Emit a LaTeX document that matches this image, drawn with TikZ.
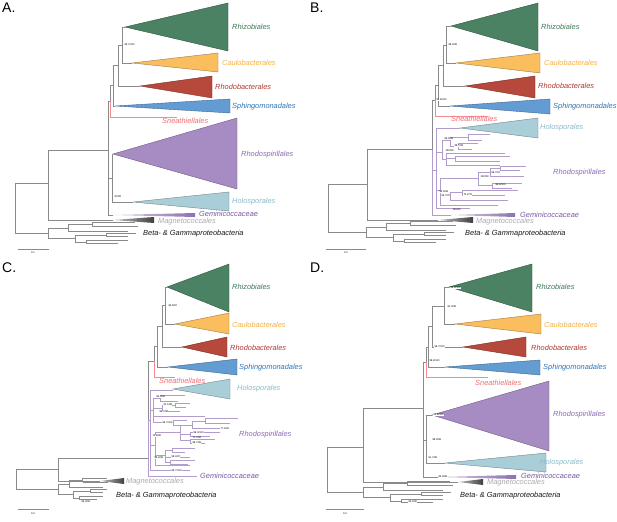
\documentclass[tikz,border=0pt]{standalone}
\usepackage{fontspec}
\setmainfont{Liberation Sans}
\usetikzlibrary{arrows.meta}

\definecolor{rhizo}{HTML}{4C8264}
\definecolor{caulo}{HTML}{FABE5F}
\definecolor{rhodob}{HTML}{B6483C}
\definecolor{sphingo}{HTML}{629CD2}
\definecolor{rhodos}{HTML}{A78CC3}
\definecolor{holo}{HTML}{AACED8}
\definecolor{gemini}{HTML}{8D72B0}
\definecolor{rhizotxt}{HTML}{3F7A5A}
\definecolor{caulotxt}{HTML}{F5B041}
\definecolor{rhodobtxt}{HTML}{B03A2E}
\definecolor{sphingotxt}{HTML}{2E75B6}
\definecolor{sneathtxt}{HTML}{EE6E73}
\definecolor{rhodostxt}{HTML}{8E6BB5}
\definecolor{holotxt}{HTML}{87BBCB}
\definecolor{geminitxt}{HTML}{7B58A6}
\definecolor{magnetotxt}{HTML}{AAAAAA}
\definecolor{treegray}{HTML}{8A8A8A}
\definecolor{treepurple}{HTML}{B09DCB}

\newcommand{\cladetri}[6]{\filldraw[clade, fill=#1, draw=#1!65!black] (#2,#3) -- (#4,#5) -- (#4,#6) -- cycle;}

\tikzset{
  betagamma/.pic={
    \draw[branch] (0,-5) -- (0,5) (0,-5) -- (20,-5) (20,-9) -- (20,-2) (20,-9) -- (44,-9)
      (44,-11) -- (44,-7) (44,-11) -- (87,-11) (44,-7) -- (90,-7) (20,-2) -- (80,-2)
      (0,5) -- (27,5) (27,2) -- (27,9) (27,2) -- (58,2) (58,0.5) -- (58,3.5) (58,0.5) -- (88,0.5)
      (58,3.5) -- (80,3.5) (27,9) -- (38,9) (38,7.5) -- (38,10.5) (38,7.5) -- (80,7.5) (38,10.5) -- (70,10.5);
  }
}

\begin{document}
\begin{tikzpicture}[
  x=1pt, y=-1pt,
  branch/.style={draw=treegray, line width=.5pt},
  purp/.style={draw=treepurple, line width=.4pt},
  sneathline/.style={draw=sneathtxt!80, line width=.5pt},
  clade/.style={line width=.4pt},
  lab/.style={font=\fontsize{7.4}{8}\selectfont\itshape, anchor=west, inner sep=0pt},
  boot/.style={font=\fontsize{2.6}{3}\selectfont, inner sep=.3pt, anchor=west, fill=white},
  panel/.style={font=\fontsize{14}{14}\selectfont, anchor=north west, inner sep=0pt},
]
\useasboundingbox (0,0) rectangle (617,521);
\fill[white] (0,0) rectangle (617,521);

% panel A
\node[panel] (pA) at (2,3) {A.};
\cladetri{rhizo}{125}{27}{228}{3}{51}
\cladetri{caulo}{132}{63}{218}{53}{72}
\cladetri{rhodob}{140}{86}{212}{76}{98}
\cladetri{sphingo}{115}{106}{230}{99}{113}
\cladetri{rhodos}{113}{154}{237}{118}{189}
\cladetri{holo}{133}{202}{229}{192}{211}
\shade[left color=gemini!35, right color=gemini] (113,215) -- (195,213) -- (195,217) -- cycle;
\shade[left color=black!25, right color=black!75] (113,220) -- (154,217) -- (154,223) -- cycle;
\draw[branch] (15,183) -- (15,233) (15,183) -- (48,183) (48,150) -- (48,220) (48,150) -- (108,150)
  (108,101) -- (108,215) (108,101) -- (110,101) (110,85) -- (110,101) (110,85) -- (113,85)
  (113,65) -- (113,106) (113,65) -- (118,65) (118,45) -- (118,86) (118,45) -- (122,45)
  (122,27) -- (122,63) (122,27) -- (125,27) (122,63) -- (132,63) (118,86) -- (140,86) (113,106) -- (115,106)
  (108,178) -- (112,178) (112,154) -- (112,202) (112,154) -- (113,154) (112,202) -- (133,202)
  (108,215) -- (113,215) (48,220) -- (113,220) (15,233) -- (48,233);
\draw[sneathline] (110,101) -- (110,117) -- (177,117);
\pic at (48,233) {betagamma};
\node[lab, text=rhizotxt] (rhizoA) at (232,27) {Rhizobiales};
\node[lab, text=caulotxt] (cauloA) at (222,63) {Caulobacterales};
\node[lab, text=rhodobtxt] (rhodobA) at (215,87) {Rhodobacterales};
\node[lab, text=sphingotxt] (sphingoA) at (232,107) {Sphingomonadales};
\node[lab, text=sneathtxt] (sneathA) at (162,121) {Sneathiellales};
\node[lab, text=rhodostxt] (rhodosA) at (241,155) {Rhodospirillales};
\node[lab, text=holotxt] (holoA) at (232,202) {Holosporales};
\node[lab, text=geminitxt] (geminiA) at (199,214) {Geminicoccaceae};
\node[lab, text=magnetotxt] (magnetoA) at (158,222) {Magnetococcales};
\node[lab, text=black!90] (betaA) at (143,234) {Beta- \& Gammaproteobacteria};
\node[boot] at (124,45) {96.7/100};
\node[boot] at (114,197) {97/98};
\draw[branch] (18,249) -- (49,249);
\node[boot, anchor=center] (barA) at (33,253) {0.1};

% panel B
\node[panel] (pB) at (310,3) {B.};
\cladetri{rhizo}{451}{26}{538}{3}{51}
\cladetri{caulo}{456}{63}{540}{53}{73}
\cladetri{rhodob}{465}{86}{535}{76}{98}
\cladetri{sphingo}{450}{106}{550}{99}{114}
\cladetri{holo}{460}{128}{538}{118}{138}
\shade[left color=gemini!35, right color=gemini] (451,215) -- (515,213) -- (515,217) -- cycle;
\shade[left color=black!25, right color=black!75] (438,220) -- (473,217) -- (473,223) -- cycle;
\draw[branch] (328,184) -- (328,232) (328,184) -- (367,184) (367,149) -- (367,220) (367,149) -- (432,149)
  (432,100) -- (432,150) (432,100) -- (435,100) (435,85) -- (435,100) (435,85) -- (438,85)
  (438,65) -- (438,106) (438,65) -- (443,65) (443,45) -- (443,86) (443,45) -- (446,45)
  (446,26) -- (446,63) (446,26) -- (451,26) (446,63) -- (456,63) (443,86) -- (465,86) (438,106) -- (450,106)
  (367,220) -- (438,220) (328,232) -- (366,232);
\draw[sneathline] (435,100) -- (435,116) -- (488,116);
\draw[purp] (432,150) -- (432,215) (432,215) -- (451,215)
  foreach \a/\b/\y in {436/460/128, 432/436/170, 436/442/152, 442/450/140, 450/468/137, 468/490/134,
    468/482/140, 450/458/146, 458/478/143, 458/472/149, 442/446/159, 446/505/153, 446/455/158,
    455/510/156, 455/500/161, 446/500/165, 436/440/190, 440/478/178, 478/490/172, 490/500/168,
    500/526/166, 500/520/170, 490/524/176, 478/492/185, 492/522/183, 492/512/188, 440/450/196,
    450/462/192, 462/518/190, 462/505/195, 450/508/200, 440/498/205, 436/470/208}
  {(\a,\y) -- (\b,\y)}
  foreach \x/\a/\b in {436/128/208, 442/140/159, 450/137/146, 468/134/140, 458/143/149, 446/153/165,
    455/156/161, 440/178/205, 478/172/185, 490/168/176, 500/166/170, 492/183/188, 450/192/200, 462/190/195}
  {(\x,\a) -- (\x,\b)};
\pic at (366,232) {betagamma};
\node[lab, text=rhizotxt] (rhizoB) at (541,27) {Rhizobiales};
\node[lab, text=caulotxt] (cauloB) at (544,63) {Caulobacterales};
\node[lab, text=rhodobtxt] (rhodobB) at (538,86) {Rhodobacterales};
\node[lab, text=sphingotxt] (sphingoB) at (553,107) {Sphingomonadales};
\node[lab, text=sneathtxt] (sneathB) at (451,119) {Sneathiellales};
\node[lab, text=holotxt] (holoB) at (540,128) {Holosporales};
\node[lab, text=rhodostxt] (rhodosB) at (553,173) {Rhodospirillales};
\node[lab, text=geminitxt] (geminiB) at (520,215) {Geminicoccaceae};
\node[lab, text=magnetotxt] (magnetoB) at (476,222) {Magnetococcales};
\node[lab, text=black!90] (betaB) at (465,234) {Beta- \& Gammaproteobacteria};
\foreach \x/\y/\t in {448/45/{98.2/99}, 436/100/{99.8/100}, 444/139/{99.9/99}, 454/146/{99.7/99},
  445/151/{100/99}, 491/173/{99.7/97}, 480/177/{100/99}, 495/185/{98.8/100}, 463/195/{70.2/75},
  439/192/{95.6/99}, 441/196/{99.7/97}, 452/210/{100/99}}
  \node[boot] at (\x,\y) {\t};
\draw[branch] (326,249) -- (366,249);
\node[boot, anchor=center] (barB) at (346,253) {0.2};

% panel C
\node[panel] (pC) at (2,263) {C.};
\cladetri{rhizo}{167}{287}{229}{264}{312}
\cladetri{caulo}{175}{324}{229}{313}{334}
\cladetri{rhodob}{182}{347}{227}{337}{357}
\cladetri{sphingo}{168}{367}{237}{359}{375}
\cladetri{holo}{173}{389}{230}{379}{399}
\shade[left color=black!25, right color=black!75] (100,481) -- (124,478) -- (124,484) -- cycle;
\draw[branch] (16,469) -- (16,489) (16,469) -- (58,469) (58,458) -- (58,481) (58,458) -- (148,458)
  (148,361) -- (148,420) (148,361) -- (154,361) (154,346) -- (154,361) (154,346) -- (157,346)
  (157,326) -- (157,367) (157,326) -- (162,326) (162,305) -- (162,347) (162,305) -- (165,305)
  (165,287) -- (165,324) (165,287) -- (167,287) (165,324) -- (175,324) (162,347) -- (182,347) (157,367) -- (168,367)
  (58,481) -- (100,481) (16,489) -- (58,489);
\draw[sneathline] (154,361) -- (154,377) -- (175,377);
\draw[purp] (148,420) -- (148,476) (148,476) -- (197,476)
  foreach \a/\b/\y in {150/173/390, 148/150/420, 150/153/410, 153/160/398, 160/185/395, 160/178/401,
    153/162/408, 162/175/405, 175/190/403, 175/186/407, 162/180/411, 153/205/416, 153/173/422,
    173/187/420, 173/180/425, 150/155/445, 155/180/432, 180/192/425, 192/205/421, 205/238/418,
    205/230/423, 192/225/428, 180/190/434, 190/220/432, 190/210/436, 180/190/440, 190/215/439,
    190/205/443, 155/165/455, 165/172/450, 172/195/448, 172/185/452, 165/190/457, 165/170/462,
    170/195/460, 170/188/464, 155/190/465, 150/190/470}
  {(\a,\y) -- (\b,\y)}
  foreach \x/\a/\b in {150/390/470, 153/398/422, 160/395/401, 162/405/411, 175/403/407, 173/420/425,
    155/432/465, 180/425/440, 192/421/428, 205/418/423, 190/432/436, 190/439/443, 165/450/462,
    172/448/452, 170/460/464}
  {(\x,\a) -- (\x,\b)};
\pic[xscale=.56] at (58,489) {betagamma};
\node[lab, text=rhizotxt] (rhizoC) at (232,287) {Rhizobiales};
\node[lab, text=caulotxt] (cauloC) at (232,325) {Caulobacterales};
\node[lab, text=rhodobtxt] (rhodobC) at (230,348) {Rhodobacterales};
\node[lab, text=sphingotxt] (sphingoC) at (239,368) {Sphingomonadales};
\node[lab, text=sneathtxt] (sneathC) at (159,381) {Sneathiellales};
\node[lab, text=holotxt] (holoC) at (237,389) {Holosporales};
\node[lab, text=rhodostxt] (rhodosC) at (239,435) {Rhodospirillales};
\node[lab, text=geminitxt] (geminiC) at (200,476) {Geminicoccaceae};
\node[lab, text=magnetotxt] (magnetoC) at (126,482) {Magnetococcales};
\node[lab, text=black!90] (betaC) at (116,496) {Beta- \& Gammaproteobacteria};
\foreach \x/\y/\t in {168/306/{96.8/97}, 156/397/{85.5/92}, 163/405/{91.1/98}, 159/412/{96.7/98},
  162/423/{96.7/100}, 152/436/{74.8/90}, 220/429/{77.4/92}, 193/433/{99.3/100}, 192/438/{71.7/84},
  192/443/{98.7/99}, 154/458/{99.9/99}, 171/457/{99.4/97}, 171/471/{99.7/100}, 81/502/{96.3/92}}
  \node[boot] at (\x,\y) {\t};
\draw[branch] (18,509) -- (49,509);
\node[boot, anchor=center] (barC) at (33,514) {0.2};

% panel D
\node[panel] (pD) at (310,263) {D.};
\cladetri{rhizo}{449}{287}{532}{264}{312}
\cladetri{caulo}{455}{324}{541}{314}{334}
\cladetri{rhodob}{463}{347}{526}{337}{357}
\cladetri{sphingo}{445}{367}{540}{360}{375}
\cladetri{rhodos}{432}{415}{549}{381}{451}
\cladetri{holo}{445}{463}{546}{453}{472}
\shade[left color=gemini!35, right color=gemini] (438,477) -- (516,475) -- (516,479) -- cycle;
\shade[left color=black!25, right color=black!75] (458,482) -- (483,479) -- (483,485) -- cycle;
\draw[branch] (327,447) -- (327,492) (327,447) -- (363,447) (363,408) -- (363,482) (363,408) -- (423,408)
  (423,362) -- (423,477) (423,362) -- (426,362) (426,347) -- (426,362) (426,347) -- (428,347)
  (428,326) -- (428,367) (428,326) -- (432,326) (432,306) -- (432,347) (432,306) -- (444,306)
  (444,287) -- (444,324) (444,287) -- (449,287) (444,324) -- (455,324) (432,347) -- (463,347) (428,367) -- (445,367)
  (423,440) -- (426,440) (426,415) -- (426,463) (426,415) -- (432,415) (426,463) -- (445,463)
  (423,477) -- (438,477) (363,482) -- (458,482) (327,492) -- (363,492);
\draw[sneathline] (426,362) -- (426,377) -- (488,377);
\pic at (363,492) {betagamma};
\node[lab, text=rhizotxt] (rhizoD) at (536,287) {Rhizobiales};
\node[lab, text=caulotxt] (cauloD) at (544,325) {Caulobacterales};
\node[lab, text=rhodobtxt] (rhodobD) at (531,348) {Rhodobacterales};
\node[lab, text=sphingotxt] (sphingoD) at (543,368) {Sphingomonadales};
\node[lab, text=sneathtxt] (sneathD) at (475,383) {Sneathiellales};
\node[lab, text=rhodostxt] (rhodosD) at (553,415) {Rhodospirillales};
\node[lab, text=holotxt] (holoD) at (540,463) {Holosporales};
\node[lab, text=geminitxt] (geminiD) at (521,476) {Geminicoccaceae};
\node[lab, text=magnetotxt] (magnetoD) at (487,483) {Magnetococcales};
\node[lab, text=black!90] (betaD) at (460,496) {Beta- \& Gammaproteobacteria};
\foreach \x/\y/\t in {450/288/{99.9/100}, 447/307/{91.3/99}, 434/347/{99.7/100}, 429/361/{99.8/100},
  433/415/{95.8/100}, 432/440/{98.9/99}, 428/458/{91.7/98}, 438/477/{85.9/98}, 408/502/{96.3/90}}
  \node[boot] at (\x,\y) {\t};
\draw[branch] (326,509) -- (364,509);
\node[boot, anchor=center] (barD) at (345,514) {0.2};
\end{tikzpicture}
\end{document}
